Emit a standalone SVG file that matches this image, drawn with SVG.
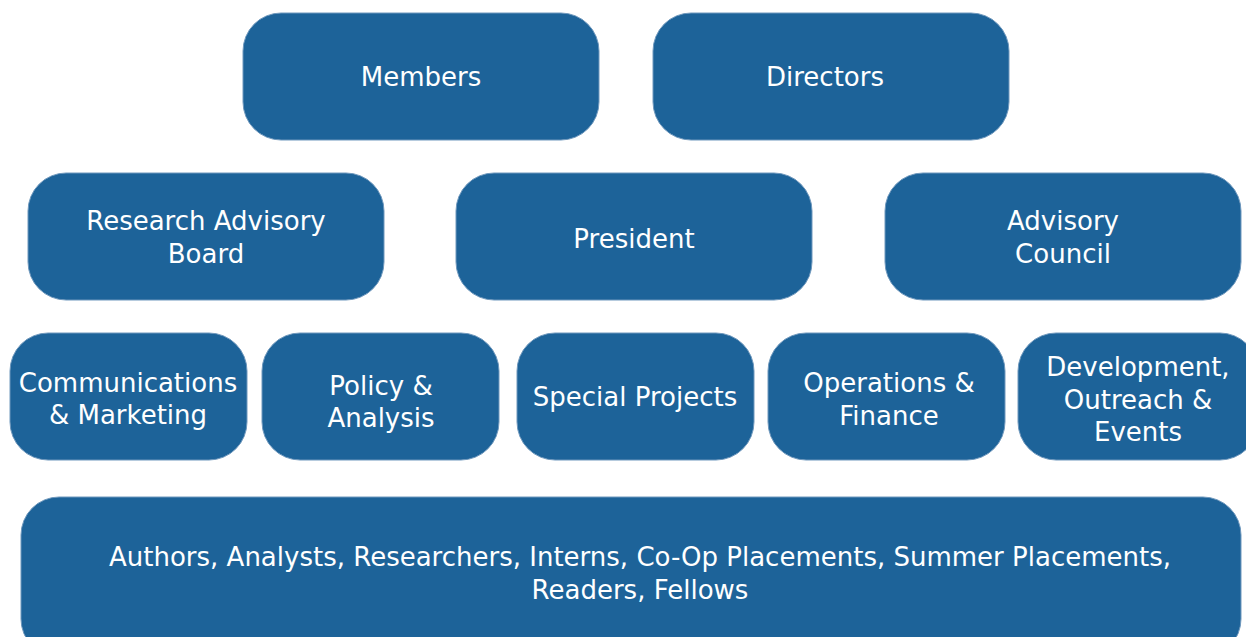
<svg xmlns="http://www.w3.org/2000/svg" width="1246" height="637" viewBox="0 0 1246 637">
<style>
.box{fill:#1d6399;stroke:#6f98bd;stroke-width:1}
.t{font-family:"DejaVu Sans",sans-serif;font-size:26px;fill:#ffffff;text-anchor:middle}
</style>
<rect width="1246" height="637" fill="#ffffff"/>
<g id="connectors"></g>
<g id="members"><rect class="box" x="243" y="13" width="356" height="127" rx="38"/><text class="t" x="421" y="86">Members</text></g>
<g id="directors"><rect class="box" x="653" y="13" width="356" height="127" rx="38"/><text class="t" x="825" y="86">Directors</text></g>
<g id="research-advisory-board"><rect class="box" x="28" y="173" width="356" height="127" rx="38"/><text class="t" x="206" y="230">Research Advisory</text><text class="t" x="206" y="263">Board</text></g>
<g id="president"><rect class="box" x="456" y="173" width="356" height="127" rx="38"/><text class="t" x="634" y="248">President</text></g>
<g id="advisory-council"><rect class="box" x="885" y="173" width="356" height="127" rx="38"/><text class="t" x="1063" y="230">Advisory</text><text class="t" x="1063" y="263">Council</text></g>
<g id="communications"><rect class="box" x="10" y="333" width="237" height="127" rx="38"/><text class="t" x="128" y="392">Communications</text><text class="t" x="128" y="424">&amp; Marketing</text></g>
<g id="policy"><rect class="box" x="262" y="333" width="237" height="127" rx="38"/><text class="t" x="381" y="395">Policy &amp;</text><text class="t" x="381" y="427">Analysis</text></g>
<g id="special-projects"><rect class="box" x="517" y="333" width="237" height="127" rx="38"/><text class="t" x="635" y="406">Special Projects</text></g>
<g id="operations"><rect class="box" x="768" y="333" width="237" height="127" rx="38"/><text class="t" x="889" y="392">Operations &amp;</text><text class="t" x="889" y="425">Finance</text></g>
<g id="development"><rect class="box" x="1018" y="333" width="240" height="127" rx="38"/><text class="t" x="1138" y="376">Development,</text><text class="t" x="1138" y="409">Outreach &amp;</text><text class="t" x="1138" y="441">Events</text></g>
<g id="staff"><rect class="box" x="21" y="497" width="1220" height="160" rx="38"/><text class="t" x="640" y="566">Authors, Analysts, Researchers, Interns, Co-Op Placements, Summer Placements,</text><text class="t" x="640" y="599">Readers, Fellows</text></g>
</svg>
